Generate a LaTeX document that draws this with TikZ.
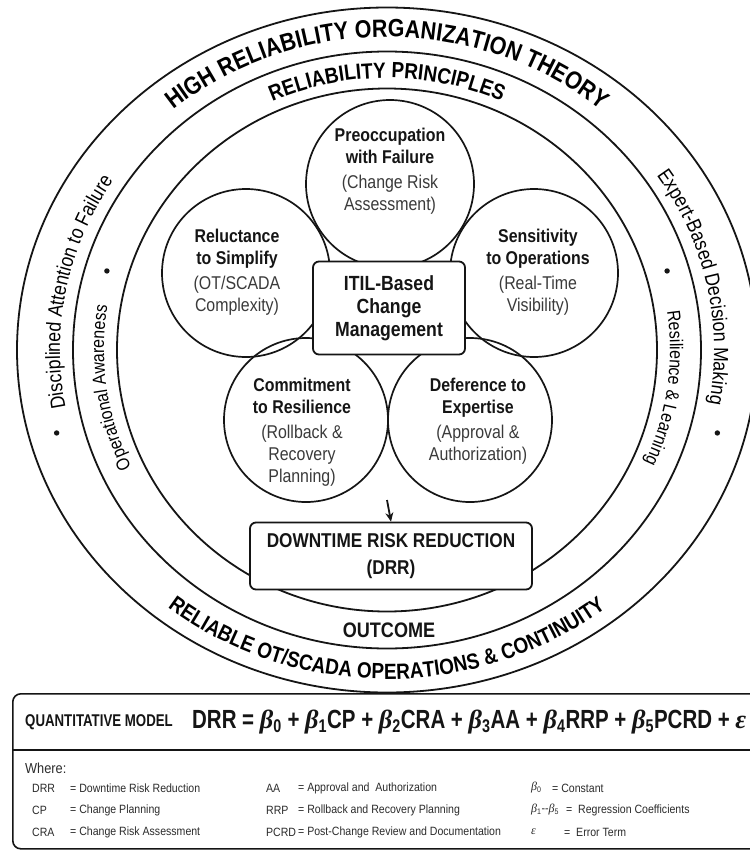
\documentclass[tikz,border=0pt]{standalone}
\usepackage{fontspec}
\usepackage{graphicx}
\setmainfont{Liberation Sans}[FakeStretch=0.86]
\newfontfamily\arcfont{Liberation Sans}[FakeStretch=0.86]
\newfontfamily\modelfont{Liberation Sans}[FakeStretch=0.78]
\newfontfamily\legendfont{Liberation Sans}[FakeStretch=0.88]
\newfontfamily\greekfont{Liberation Serif}
\usetikzlibrary{decorations.text,arrows.meta}
\definecolor{ink}{HTML}{151515}
\definecolor{subink}{HTML}{3A3A3A}
\definecolor{legink}{HTML}{2C2C2C}
\newcommand\fsz[2]{\fontsize{#1}{#2}\selectfont}
\newcommand\gb{{\greekfont\itshape β}}
\newcommand\bt[1]{\gb\textsubscript{#1}}
\newcommand\eps{{\greekfont\itshape ε}}
\begin{document}
\begin{tikzpicture}[x=1pt,y=-1pt,
  ring/.style={draw=ink, line width=1.8pt},
  petal/.style={draw=ink, line width=1.7pt, circle, inner sep=0pt},
  petaltext/.style={align=center, text=ink, inner sep=0pt, font=\fsz{18.5}{22}},
  hubbox/.style={draw=ink, line width=1.8pt, rounded corners=6pt, fill=white},
  dotmark/.style={fill=ink},
  sidetext/.style={decorate, decoration={text along path, text align=center}},
  legend/.style={anchor=west, inner sep=0pt, text=legink, font=\legendfont\fsz{12}{12}},
]
\useasboundingbox (0,0) rectangle (750,852);
\clip (0,0) rectangle (750,852);
\fill[white] (0,0) rectangle (750,852);

\coordinate (C) at (387,350);

% concentric rings
\draw[ring] (C) ellipse[x radius=370, y radius=342.5];
\draw[ring] (C) ellipse[x radius=314, y radius=298.5];
\draw[ring] (C) ellipse[x radius=270, y radius=261.5];

% ring captions
\path[sidetext, decoration={text={|\arcfont\bfseries\fsz{25}{25}|HIGH RELIABILITY ORGANIZATION THEORY}}]
  (C) ++(195:332.5 and 313) arc[start angle=195, end angle=345, x radius=332.5, y radius=313];
\path[sidetext, decoration={text={|\arcfont\bfseries\fsz{22}{22}|RELIABILITY PRINCIPLES}}]
  (C) ++(215:282.5 and 272) arc[start angle=215, end angle=325, x radius=282.5, y radius=272];
\path[sidetext, decoration={text={|\arcfont\bfseries\fsz{22}{22}|RELIABLE OT/SCADA OPERATIONS {\&} CONTINUITY}}]
  (C) ++(150:352.6 and 329) arc[start angle=150, end angle=30, x radius=352.6, y radius=329];

\path[sidetext, decoration={text={|\arcfont\fsz{20.5}{20.5}|Disciplined Attention to Failure}}]
  (C) ++(145:327 and 309) arc[start angle=145, end angle=237, x radius=327, y radius=309];
\path[sidetext, decoration={text={|\arcfont\fsz{20.5}{20.5}|Expert-Based Decision Making}}]
  (C) ++(303:327 and 309) arc[start angle=303, end angle=393, x radius=327, y radius=309];
\path[sidetext, decoration={text={|\arcfont\fsz{18.5}{18.5}|Operational Awareness}}]
  (C) ++(132:283 and 272.5) arc[start angle=132, end angle=212, x radius=283, y radius=272.5];
\path[sidetext, decoration={text={|\arcfont\fsz{18.5}{18.5}|Resilience {\&} Learning}}]
  (C) ++(328:283 and 272.5) arc[start angle=328, end angle=408, x radius=283, y radius=272.5];

% separator dots in the rings
\fill[dotmark] (C) ++(165:342 and 320.5) circle[radius=2.7pt];
\fill[dotmark] (C) ++(15:342 and 320.5) circle[radius=2.7pt];
\fill[dotmark] (C) ++(196.4:292 and 280) circle[radius=2.7pt];
\fill[dotmark] (C) ++(343.6:292 and 280) circle[radius=2.7pt];

% principle circles
\node[petal, minimum size=168pt] (pre) at (390,184) {};
\node[petal, minimum size=168pt] (rel) at (246,273) {};
\node[petal, minimum size=168pt] (sen) at (534,273) {};
\node[petal, minimum size=164pt] (com) at (306,420) {};
\node[petal, minimum size=164pt] (def) at (470,420) {};

% central box and outcome box
\node[hubbox, minimum width=152pt, minimum height=93pt] (itil) at (389,308) {};
\node[hubbox, minimum width=282pt, minimum height=67pt] (drr) at (391,556) {};

\coordinate (arrtop) at (387,500);
\draw[ink, line width=1.8pt, -{Stealth[length=9pt,width=8pt]}] (arrtop) -- (drr.north);

% labels
\node[petaltext] (pre-t) at (390,171) {\bfseries Preoccupation\\\bfseries with Failure\\[3pt]\color{subink}(Change Risk\\\color{subink}Assessment)};
\node[petaltext] (rel-t) at (237,272) {\bfseries Reluctance\\\bfseries to Simplify\\[3pt]\color{subink}(OT/SCADA\\\color{subink}Complexity)};
\node[petaltext] (sen-t) at (538,272) {\bfseries Sensitivity\\\bfseries to Operations\\[3pt]\color{subink}(Real-Time\\\color{subink}Visibility)};
\node[petaltext] (com-t) at (302,432) {\bfseries Commitment\\\bfseries to Resilience\\[3pt]\color{subink}(Rollback \&\\\color{subink}Recovery\\\color{subink}Planning)};
\node[petaltext] (def-t) at (478,421) {\bfseries Deference to\\\bfseries Expertise\\[3pt]\color{subink}(Approval \&\\\color{subink}Authorization)};
\node[align=center, text=ink, inner sep=0pt, font=\fsz{20.5}{23}\bfseries] (itil-t) at (itil) {ITIL-Based\\Change\\Management};
\node[align=center, text=ink, inner sep=0pt, font=\fsz{20}{27}\bfseries] (drr-t) at (drr) {DOWNTIME RISK REDUCTION\\(DRR)};
\node[text=ink, inner sep=0pt, font=\fsz{21}{21}\bfseries] (outcome) at (389,630) {OUTCOME};

% quantitative model panel
\node[draw=ink, line width=1.6pt, rounded corners=8pt, fill=white, anchor=north west,
      minimum width=760pt, minimum height=155pt] (panel) at (12,693) {};
\coordinate (divL) at (12,750);
\coordinate (divR) at (760,750);
\draw[ink, line width=1.3pt] (divL) -- (divR);
\node[anchor=west, inner sep=0pt, text=ink, font=\modelfont\bfseries\fsz{17}{17}] (qm) at (25,722) {QUANTITATIVE MODEL};
\node[anchor=west, inner sep=0pt, text=ink, font=\modelfont\bfseries\fsz{24}{24}] (eq) at (192,722)
  {\resizebox{554pt}{!}{DRR = \bt{0} + \bt{1}CP + \bt{2}CRA + \bt{3}AA + \bt{4}RRP + \bt{5}PCRD + \eps}};
\node[anchor=west, inner sep=0pt, text=legink, font=\legendfont\fsz{14.5}{14.5}] (where) at (25,768) {Where:};

\node[legend] (k1) at (32,788) {DRR};
\node[legend] (v1) at (70,788) {= Downtime Risk Reduction};
\node[legend] (k2) at (32,810) {CP};
\node[legend] (v2) at (70,810) {= Change Planning};
\node[legend] (k3) at (32,832) {CRA};
\node[legend] (v3) at (70,832) {= Change Risk Assessment};
\node[legend] (k4) at (266,788) {AA};
\node[legend] (v4) at (298,788) {= Approval and \ Authorization};
\node[legend] (k5) at (266,810) {RRP};
\node[legend] (v5) at (298,810) {= Rollback and Recovery Planning};
\node[legend] (k6) at (266,832) {PCRD};
\node[legend] (v6) at (298,832) {= Post-Change Review and Documentation};
\node[legend] (k7) at (531,788) {\bt{0}};
\node[legend] (v7) at (552,788) {= Constant};
\node[legend] (k8) at (531,810) {\bt{1}--\bt{5}};
\node[legend] (v8) at (566,810) {= \ Regression Coefficients};
\node[legend] (k9) at (531,832) {\eps};
\node[legend] (v9) at (564,832) {= \ Error Term};
\end{tikzpicture}
\end{document}
